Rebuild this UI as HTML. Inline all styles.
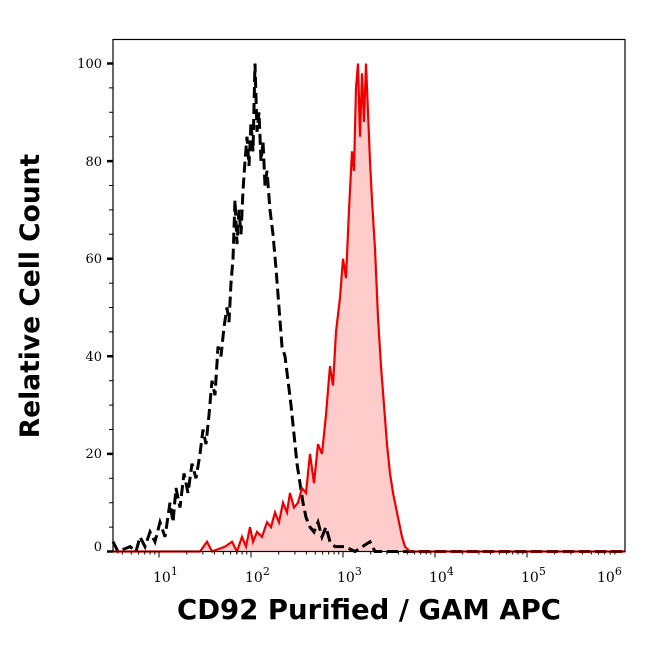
<!DOCTYPE html>
<html><head><meta charset="utf-8"><style>
html,body{margin:0;padding:0;background:#fff;}
</style></head><body>
<svg width="646" height="641" viewBox="0 0 646 641" xmlns="http://www.w3.org/2000/svg">
<rect width="646" height="641" fill="#fff"/>
<g transform="translate(0,551.5) scale(1,-4.88)">
<polygon fill="#ffcccc" points="113,0 200,0 207,2 212,0 225,1 232,2 237,0 242,3 246,1 250,5 253,2 257,4 262,3 267,6 271,5 275,8 279,6 283,10 287,8 290,12 294,9 298,10 302,13 306,12 310,20 314,14 318,22 322,20 326,28 330,38 333,34 336,45 340,52 343,60 346,56 349,70 352,82 354,78 356,95 358,100 360,85 362,98 364,88 366,100 368,90 370,80 372,72 375,62 378,48 381,38 384,30 387,22 390,16 393,12 396,9 399,6 402,3 405,1 410,0 625,0"/>
<polyline fill="none" stroke="#000" stroke-width="3" stroke-dasharray="11,5" vector-effect="non-scaling-stroke" points="113,2 118,0 130,1 136,0 140,3 145,1 150,4 155,2 160,6 165,3 170,10 173,6 176,13 180,9 184,16 188,12 192,18 196,15 200,20 203,25 206,22 209,28 212,35 215,32 218,42 221,40 224,46 227,50 229,47 231,55 233,60 235,72 237,63 239,70 241,65 243,74 245,80 247,85 249,79 251,88 253,82 255,100 257,86 259,90 261,80 263,84 265,75 267,78 270,70 273,65 276,58 279,50 282,42 285,40 288,35 291,30 294,24 297,18 300,14 303,10 306,7 310,5 314,4 318,6 322,3 326,5 330,2 335,1 345,1 355,0 370,2 375,0 625,0"/>
<polyline fill="none" stroke="#ee0000" stroke-width="2.2" vector-effect="non-scaling-stroke" points="113,0 200,0 207,2 212,0 225,1 232,2 237,0 242,3 246,1 250,5 253,2 257,4 262,3 267,6 271,5 275,8 279,6 283,10 287,8 290,12 294,9 298,10 302,13 306,12 310,20 314,14 318,22 322,20 326,28 330,38 333,34 336,45 340,52 343,60 346,56 349,70 352,82 354,78 356,95 358,100 360,85 362,98 364,88 366,100 368,90 370,80 372,72 375,62 378,48 381,38 384,30 387,22 390,16 393,12 396,9 399,6 402,3 405,1 410,0 625,0"/>
</g>
<rect x="113" y="39.5" width="512" height="512" fill="none" stroke="#000" stroke-width="1.2"/>
<g stroke="#000" stroke-width="1">
<path d="M113,63.5h-6M113,161.1h-6M113,258.7h-6M113,356.3h-6M113,453.9h-6M113,551.5h-6" stroke-width="2.5"/>
<path d="M113,87.9h-4M113,112.3h-4M113,136.7h-4M113,185.5h-4M113,209.9h-4M113,234.3h-4M113,283.1h-4M113,307.5h-4M113,331.9h-4M113,380.7h-4M113,405.1h-4M113,429.5h-4M113,478.3h-4M113,502.7h-4M113,527.1h-4"/>
</g>
<g id="xt" stroke="#000" stroke-width="1"></g>
<g font-family="DejaVu Serif, serif" font-size="13" text-anchor="end">
<text x="102" y="68">100</text><text x="102" y="166">80</text><text x="102" y="263">60</text><text x="102" y="361">40</text><text x="102" y="458">20</text><text x="102" y="551">0</text>
</g>
<g font-family="DejaVu Serif, serif" font-size="14">
<text x="153" y="582">10<tspan dy="-7" font-size="11">1</tspan></text>
<text x="245" y="582">10<tspan dy="-7" font-size="11">2</tspan></text>
<text x="337" y="582">10<tspan dy="-7" font-size="11">3</tspan></text>
<text x="429" y="582">10<tspan dy="-7" font-size="11">4</tspan></text>
<text x="521" y="582">10<tspan dy="-7" font-size="11">5</tspan></text>
<text x="597" y="582">10<tspan dy="-7" font-size="11">6</tspan></text>
</g>
<text x="369" y="619" font-family="DejaVu Sans, sans-serif" font-weight="bold" font-size="27.5" text-anchor="middle">CD92 Purified / GAM APC</text>
<text transform="translate(39,296) rotate(-90)" font-family="DejaVu Sans, sans-serif" font-weight="bold" font-size="26.5" text-anchor="middle">Relative Cell Count</text>
<script>
var g=document.getElementById('xt'),s='';
for(var d=0;d<6;d++){for(var k=1;k<10;k++){var x=159+(d-1)*92+Math.log10(k)*92;if(x<113||x>625)continue;var L=k==1?6:3;s+='M'+x.toFixed(1)+',551.5v'+L;}}
var p=document.createElementNS('http://www.w3.org/2000/svg','path');p.setAttribute('d',s);g.appendChild(p);
</script>
</svg>
</body></html>
